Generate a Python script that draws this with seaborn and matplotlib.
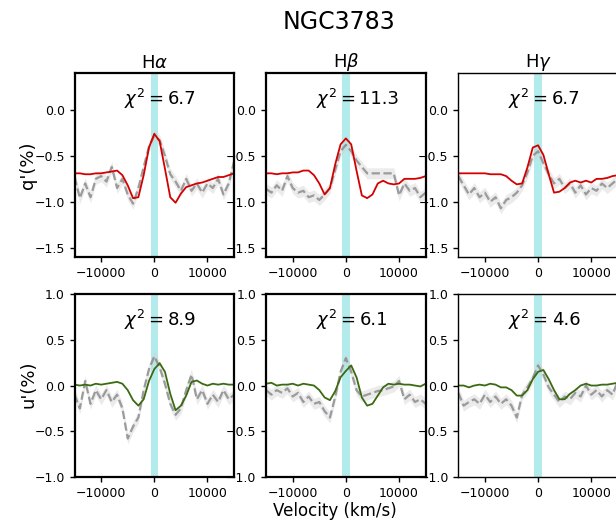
import matplotlib
matplotlib.use('Agg')

import numpy as np
import pandas as pd
import matplotlib.pyplot as plt
import seaborn as sns

# velocity grid (km/s)
velocity = np.arange(-15000, 15001, 1000)

lines = ['H$\\alpha$', 'H$\\beta$', 'H$\\gamma$']

# q' model (red) and observed (gray dashed)
q_model_ha = [-0.69, -0.69, -0.70, -0.70, -0.69, -0.69, -0.68, -0.67, -0.66, -0.71, -0.82, -0.96, -0.95, -0.71, -0.41, -0.26,
              -0.34, -0.64, -0.95, -1.01, -0.91, -0.84, -0.82, -0.80, -0.79, -0.77, -0.75, -0.73, -0.73, -0.71, -0.69]
q_obs_ha = [-0.73, -0.96, -0.80, -0.95, -0.75, -0.72, -0.78, -0.62, -0.85, -0.75, -0.92, -1.02, -0.85, -0.62, -0.40, -0.28,
            -0.33, -0.50, -0.70, -0.78, -0.88, -0.75, -0.88, -0.80, -0.90, -0.80, -0.85, -0.75, -0.92, -0.80, -0.56]
q_model_hb = [-0.69, -0.69, -0.70, -0.69, -0.69, -0.68, -0.68, -0.66, -0.66, -0.71, -0.80, -0.92, -0.85, -0.59, -0.375, -0.31,
              -0.375, -0.66, -0.93, -0.96, -0.92, -0.80, -0.77, -0.80, -0.81, -0.80, -0.75, -0.75, -0.75, -0.74, -0.72]
q_obs_hb = [-0.86, -0.90, -0.82, -0.88, -0.72, -0.85, -0.90, -0.88, -0.95, -0.93, -0.98, -0.92, -0.85, -0.65, -0.45, -0.38,
            -0.45, -0.55, -0.62, -0.69, -0.69, -0.69, -0.69, -0.69, -0.69, -0.93, -0.80, -0.88, -0.85, -0.95, -0.90]
q_model_hg = [-0.69, -0.69, -0.69, -0.69, -0.69, -0.69, -0.70, -0.70, -0.70, -0.72, -0.77, -0.81, -0.80, -0.625, -0.41, -0.385,
              -0.49, -0.70, -0.90, -0.89, -0.85, -0.79, -0.77, -0.79, -0.77, -0.79, -0.75, -0.75, -0.74, -0.72, -0.71]
q_obs_hg = [-0.72, -0.82, -0.92, -0.85, -0.95, -0.90, -1.00, -0.95, -1.07, -0.98, -0.95, -0.90, -0.82, -0.68, -0.50, -0.45,
            -0.58, -0.70, -0.80, -0.75, -0.85, -0.80, -0.90, -0.82, -0.92, -0.85, -0.88, -0.80, -0.85, -0.80, -0.75]

# u' model (green) and observed (gray dashed)
u_model_ha = [0.01, 0.00, 0.01, 0.00, 0.02, 0.01, 0.02, 0.03, 0.04, 0.02, -0.05, -0.16, -0.22, -0.15, 0.05, 0.18,
              0.245, 0.15, -0.09, -0.27, -0.22, -0.11, 0.04, 0.055, 0.02, 0.00, 0.02, 0.01, 0.02, 0.01, 0.01]
u_obs_ha = [-0.10, -0.25, 0.05, -0.20, -0.05, -0.15, -0.05, -0.18, -0.10, -0.25, -0.58, -0.45, -0.35, -0.05, 0.18, 0.32,
            0.20, 0.02, -0.20, -0.32, -0.25, -0.05, 0.12, -0.15, -0.05, -0.20, -0.10, -0.18, -0.05, -0.15, -0.10]
u_model_hb = [0.02, 0.03, 0.00, 0.01, 0.01, 0.02, 0.00, 0.02, 0.01, 0.00, -0.05, -0.13, -0.16, -0.06, 0.09, 0.16,
              0.22, 0.09, -0.13, -0.22, -0.20, -0.11, -0.02, 0.02, 0.01, 0.02, 0.01, 0.01, 0.00, -0.01, 0.02]
u_obs_hb = [-0.05, -0.10, -0.05, -0.08, -0.03, -0.12, -0.08, -0.18, -0.12, -0.20, -0.18, -0.28, -0.35, -0.12, 0.15, 0.30,
            0.15, -0.05, -0.12, -0.10, -0.08, -0.06, -0.05, -0.03, -0.01, 0.05, -0.15, -0.10, -0.18, -0.15, -0.20]
u_model_hg = [0.00, 0.00, -0.02, 0.00, 0.01, 0.00, 0.02, 0.01, -0.02, -0.02, -0.05, -0.11, -0.11, -0.05, 0.07, 0.15,
              0.17, 0.07, -0.05, -0.15, -0.15, -0.09, -0.05, 0.00, 0.02, 0.00, 0.00, 0.01, 0.01, 0.02, 0.03]
u_obs_hg = [-0.08, -0.22, -0.18, -0.15, -0.20, -0.10, -0.18, -0.12, -0.20, -0.15, -0.22, -0.35, -0.10, -0.02, 0.08, 0.22,
            0.12, -0.02, -0.10, -0.18, -0.12, -0.15, -0.08, -0.12, 0.00, -0.10, -0.05, -0.12, -0.05, -0.10, 0.05]

q_chi2 = ['6.7', '11.3', '6.7']
u_chi2 = ['8.9', '6.1', '4.6']
obs_err = 0.06

q_models = [q_model_ha, q_model_hb, q_model_hg]
q_obs = [q_obs_ha, q_obs_hb, q_obs_hg]
u_models = [u_model_ha, u_model_hb, u_model_hg]
u_obs = [u_obs_ha, u_obs_hb, u_obs_hg]

sns.set_style('ticks')
plt.rcParams.update({
    'font.family': ['DejaVu Sans'],
    'xtick.labelsize': 9,
    'ytick.labelsize': 9,
    'text.color': 'black',
    'axes.labelcolor': 'black',
    'axes.edgecolor': 'black',
    'xtick.color': 'black',
    'ytick.color': 'black',
})

fig = plt.figure(figsize=(6.16, 5.21), dpi=100)

lefts = [0.121, 0.432, 0.744]
width = 0.259
rows = [(0.5067, 0.353), (0.0845, 0.351)]


def draw_panel(ax, model, obs, chi2, color, ylim, yticks, spine_w):
    df = pd.DataFrame({'v': velocity, 'model': model, 'obs': obs})
    ax.axvspan(-700, 700, color='c', alpha=0.3, lw=0)
    for edge in (-15000, 15000):
        ax.axvline(edge, color='c', ls='--', alpha=0.4, lw=1.5)
    ax.fill_between(df['v'], df['obs'] - obs_err, df['obs'] + obs_err, color='lightgray', alpha=0.45, lw=0)
    sns.lineplot(data=df, x='v', y='obs', ax=ax, color='gray', alpha=0.75, lw=1.6, linestyle='--')
    sns.lineplot(data=df, x='v', y='model', ax=ax, color=color, lw=1.3)
    ax.set_xlim(-15000, 15000)
    ax.set_ylim(*ylim)
    ax.set_yticks(yticks)
    ax.set_xticks([-10000, 0, 10000])
    ax.set_xlabel('')
    ax.set_ylabel('')
    for s in ax.spines.values():
        s.set_linewidth(spine_w)
        s.set_color('black')
    ax.tick_params(width=1.0, length=3.5, colors='black')
    ax.text(0.31, 0.86, r'$\chi^2=$', transform=ax.transAxes, fontsize=13, va='center', ha='left')
    ax.text(0.585, 0.86, chi2, transform=ax.transAxes, fontsize=13, va='center', ha='left')


for i in range(3):
    spine_w = 1.6 if i < 2 else 1.0
    ax_q = fig.add_axes([lefts[i], rows[0][0], width, rows[0][1]])
    draw_panel(ax_q, q_models[i], q_obs[i], q_chi2[i], '#d40000', (-1.6, 0.4), [0.0, -0.5, -1.0, -1.5], spine_w)
    ax_q.set_title(lines[i], fontsize=13, pad=4)
    ax_u = fig.add_axes([lefts[i], rows[1][0], width, rows[1][1]])
    draw_panel(ax_u, u_models[i], u_obs[i], u_chi2[i], '#3a6b12', (-1.0, 1.0), [1.0, 0.5, 0.0, -0.5, -1.0], spine_w)

fig.text(0.55, 0.957, 'NGC3783', fontsize=17, ha='center', va='center')
fig.text(0.046, 0.683, "q'(%)", fontsize=13, rotation=90, ha='center', va='center')
fig.text(0.046, 0.262, "u'(%)", fontsize=13, rotation=90, ha='center', va='center')
fig.text(0.544, 0.019, 'Velocity (km/s)', fontsize=12, ha='center', va='center')

plt.savefig('out.png', dpi=100)
plt.close()
